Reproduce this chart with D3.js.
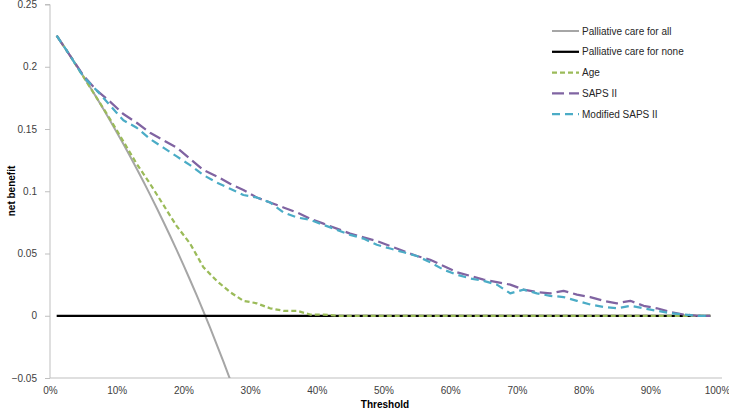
<!DOCTYPE html>
<html>
<head>
  <meta charset="utf-8">
  <script src="https://cdnjs.cloudflare.com/ajax/libs/d3/7.8.5/d3.min.js"></script>
  <style>
    body { margin: 0; padding: 0; background: #fff; }
    text { font-family: "Liberation Sans Narrow", "Liberation Sans", Arial, sans-serif; fill: #404040; }
    .axis path, .axis line { stroke: #bfbfbf; }
    .axis text { font-size: 10px; fill: #404040; }
    .title { font-size: 10px; font-weight: bold; fill: #000; }
    .legend text { font-size: 10px; fill: #262626; }
  </style>
</head>
<body>
<svg width="729" height="412"></svg>
<script>
// thresholds (odd percents) shared by the model curves
const thresholds = [0.01, 0.03, 0.05, 0.07, 0.09, 0.11, 0.13, 0.15, 0.17, 0.19,
  0.21, 0.23, 0.25, 0.27, 0.29, 0.31, 0.33, 0.35, 0.37, 0.39,
  0.41, 0.43, 0.45, 0.47, 0.49, 0.51, 0.53, 0.55, 0.57, 0.59,
  0.61, 0.63, 0.65, 0.67, 0.69, 0.71, 0.73, 0.75, 0.77, 0.79,
  0.81, 0.83, 0.85, 0.87, 0.89, 0.91, 0.93, 0.95, 0.97, 0.99];

const ageValues = [0.225, 0.209, 0.192, 0.175, 0.158, 0.140, 0.122, 0.106, 0.089, 0.072,
  0.058, 0.039, 0.028, 0.019, 0.012, 0.010, 0.006, 0.004, 0.004, 0.001,
  0.001, 0, 0, 0, 0, 0, 0, 0, 0, 0,
  0, 0, 0, 0, 0, 0, 0, 0, 0, 0,
  0, 0, 0, 0, 0, 0, 0, 0, 0, 0];

const sapsValues = [0.225, 0.209, 0.193, 0.181, 0.172, 0.162, 0.155, 0.147, 0.141, 0.135,
  0.126, 0.117, 0.112, 0.106, 0.101, 0.095, 0.091, 0.087, 0.083, 0.078,
  0.074, 0.070, 0.066, 0.063, 0.060, 0.056, 0.052, 0.048, 0.045, 0.040,
  0.035, 0.032, 0.029, 0.027, 0.025, 0.021, 0.019, 0.018, 0.020, 0.017,
  0.015, 0.012, 0.010, 0.012, 0.008, 0.006, 0.003, 0.001, 0, 0];

const modSapsValues = [0.225, 0.209, 0.192, 0.181, 0.169, 0.157, 0.151, 0.142, 0.135, 0.128,
  0.121, 0.113, 0.107, 0.102, 0.097, 0.095, 0.091, 0.083, 0.079, 0.077,
  0.073, 0.069, 0.065, 0.062, 0.057, 0.054, 0.051, 0.048, 0.043, 0.037,
  0.033, 0.030, 0.028, 0.025, 0.018, 0.021, 0.018, 0.016, 0.015, 0.012,
  0.009, 0.007, 0.006, 0.008, 0.006, 0.004, 0.002, 0.001, 0, 0];

// treat-all curve, read at 1% steps until it leaves the plot
const allThresholds = [0.01, 0.02, 0.03, 0.04, 0.05, 0.06, 0.07, 0.08, 0.09, 0.10,
  0.11, 0.12, 0.13, 0.14, 0.15, 0.16, 0.17, 0.18, 0.19, 0.20,
  0.21, 0.22, 0.23, 0.24, 0.25, 0.26, 0.27];
const allValues = [0.225, 0.217, 0.209, 0.2007, 0.1923, 0.1837, 0.175, 0.166, 0.1568, 0.1474,
  0.1379, 0.1281, 0.1181, 0.1078, 0.0973, 0.0866, 0.0755, 0.0643, 0.0527, 0.0409,
  0.0287, 0.0163, 0.0035, -0.0096, -0.0231, -0.0369, -0.0511];

const noneThresholds = [0.01, 0.99];
const noneValues = [0, 0];

const xTicks = [0, 0.1, 0.2, 0.3, 0.4, 0.5, 0.6, 0.7, 0.8, 0.9, 1];
const yTicks = [-0.05, 0, 0.05, 0.1, 0.15, 0.2, 0.25];

let svg = d3.select("svg");

//scales
let x = d3.scaleLinear().domain([0, 1]).range([50, 717]),
  y = d3.scaleLinear().domain([-0.05, 0.25]).range([378, 4.5]);

//clip to plot area
svg.append("clipPath").attr("id", "plot")
  .append("rect").attr("x", 50).attr("y", 4.5).attr("width", 675).attr("height", 373.5);

//y axis
let yAxis = svg.append("g")
  .attr("class", "axis")
  .attr("transform", "translate(50,0)")
  .call(d3.axisLeft(y).tickValues(yTicks).tickSize(5).tickPadding(8)
    .tickFormat(function(d) { return d3.format("")(+d.toFixed(2)); }));
yAxis.select(".domain").attr("d", "M-5," + y(0.25) + "H0V" + y(-0.05));

//x axis
let xAxis = svg.append("g")
  .attr("class", "axis")
  .attr("transform", "translate(0," + y(-0.05) + ")")
  .call(d3.axisBottom(x).tickValues(xTicks).tickSize(0).tickPadding(9)
    .tickFormat(d3.format(".0%")));
xAxis.select(".domain").attr("d", "M50,0H722");

//axis titles
svg.append("text").attr("class", "title")
  .attr("x", 385).attr("y", 408).attr("text-anchor", "middle")
  .text("Threshold");
svg.append("text").attr("class", "title")
  .attr("transform", "translate(15,191) rotate(-90)")
  .attr("text-anchor", "middle")
  .text("net benefit");

let line = d3.line()
  .x(function(d) { return x(d[0]); })
  .y(function(d) { return y(d[1]); });

const series = [
  { name: "Palliative care for all", t: allThresholds, v: allValues, color: "#a6a6a6", width: 2, dash: null },
  { name: "Palliative care for none", t: noneThresholds, v: noneValues, color: "#000000", width: 2.25, dash: null },
  { name: "Age", t: thresholds, v: ageValues, color: "#9bbb59", width: 2.25, dash: "5,3" },
  { name: "SAPS II", t: thresholds, v: sapsValues, color: "#8064a2", width: 2.25, dash: "12,5" },
  { name: "Modified SAPS II", t: thresholds, v: modSapsValues, color: "#4bacc6", width: 2.25, dash: "8,5" }
];

let plot = svg.append("g").attr("clip-path", "url(#plot)");
series.forEach(function(s) {
  plot.append("path")
    .datum(s.t.map(function(t, i) { return [t, s.v[i]]; }))
    .attr("d", line)
    .attr("fill", "none")
    .attr("stroke", s.color)
    .attr("stroke-width", s.width)
    .attr("stroke-dasharray", s.dash)
    .attr("stroke-linejoin", "round");
});

//legend
let legend = svg.append("g").attr("class", "legend");
series.forEach(function(s, i) {
  let ly = 31 + i * 20.8;
  legend.append("line")
    .attr("x1", 552).attr("x2", 579).attr("y1", ly).attr("y2", ly)
    .attr("stroke", s.color)
    .attr("stroke-width", s.width)
    .attr("stroke-dasharray", s.dash);
  legend.append("text")
    .attr("x", 582).attr("y", ly).attr("dy", "0.35em")
    .text(s.name);
});
</script>
</body>
</html>
